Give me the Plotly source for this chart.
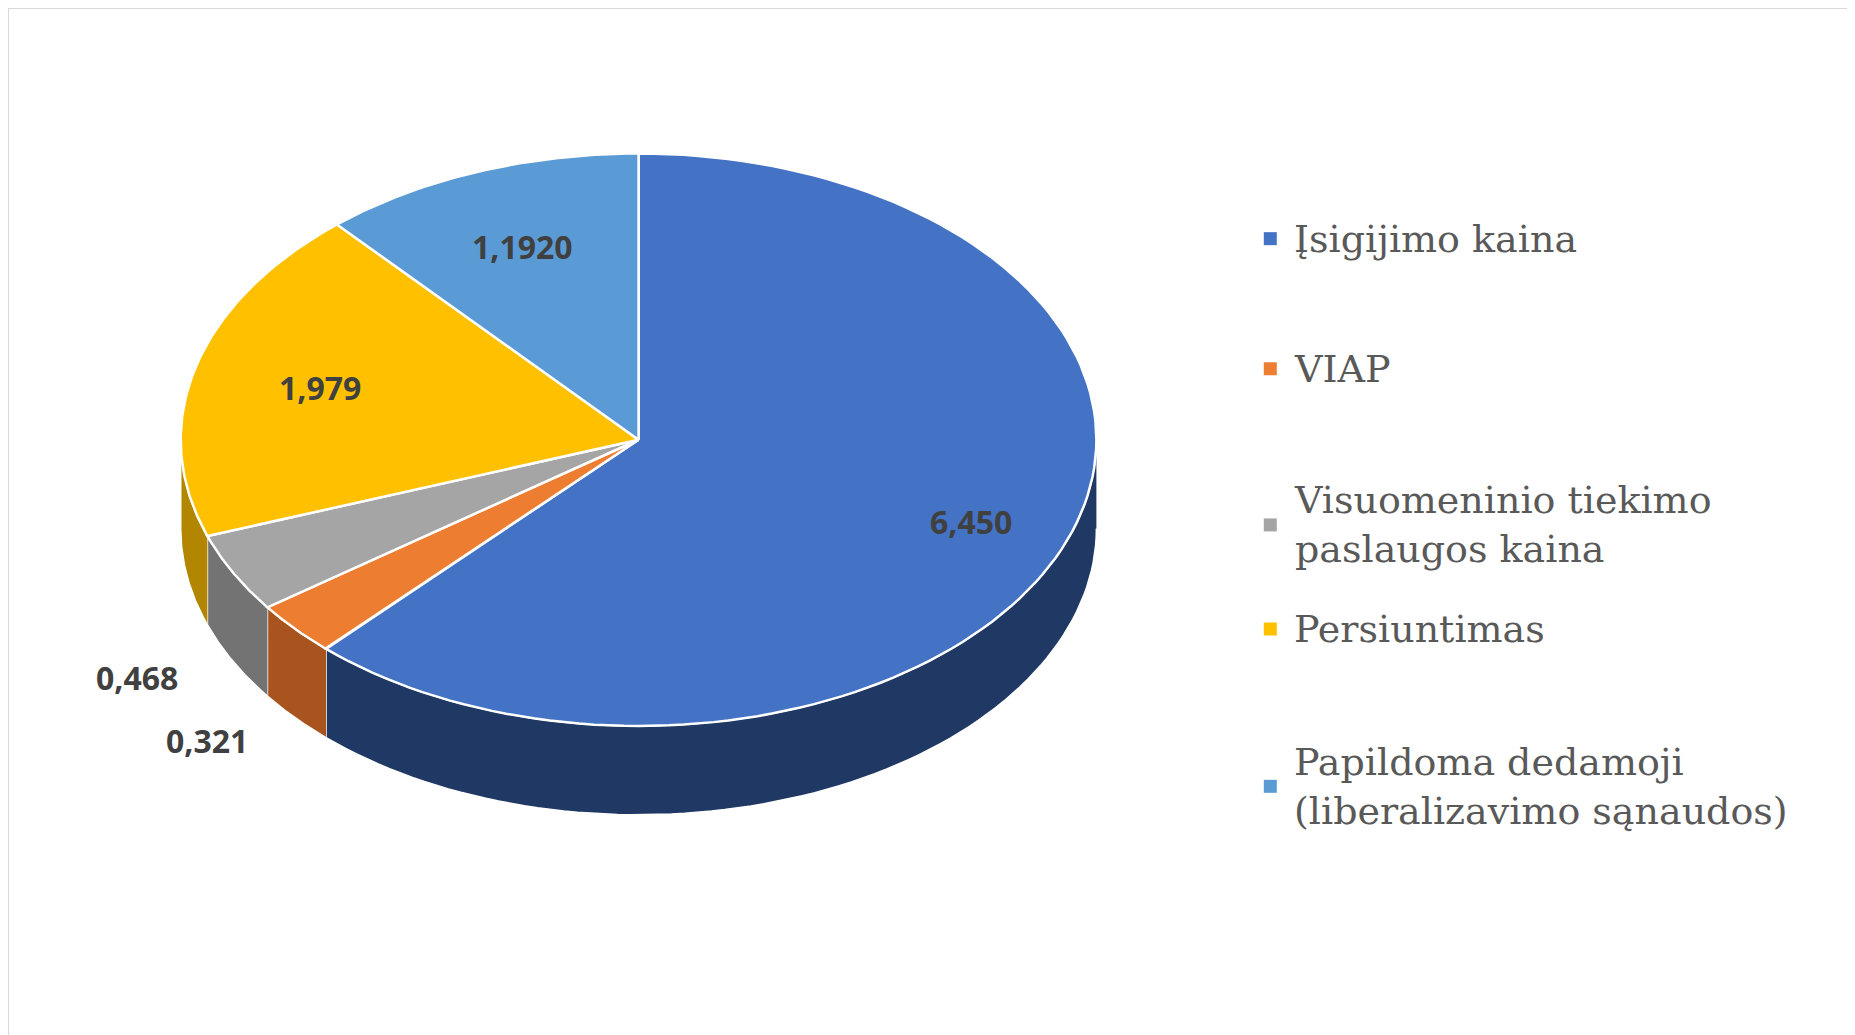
import numpy as np
import plotly.graph_objects as go

labels = ["Įsigijimo kaina", "VIAP", "Visuomeninio tiekimo<br>paslaugos kaina",
          "Persiuntimas", "Papildoma dedamoji<br>(liberalizavimo sąnaudos)"]
values = [6.450, 0.321, 0.468, 1.979, 1.1920]
value_text = ["6,450", "0,321", "0,468", "1,979", "1,1920"]
colors = ["#4472C4", "#ED7D31", "#A5A5A5", "#FFC000", "#5B9BD5"]
side_colors = ["#1F3864", "#A9541F", "#737373", "#B38600", "#3F6E99"]

W, H = 1568, 875
cx, cy, rx, ry, depth = 533, 365, 387, 242, 75

def pt(theta, r=1.0, dz=0):
    return cx + r * rx * np.sin(theta), cy - r * ry * np.cos(theta) + dz

fig = go.Figure()
total = sum(values)
bounds = np.concatenate([[0], np.cumsum(values) / total * 2 * np.pi])

# side walls (front half only)
for i in range(len(values)):
    a0, a1 = max(bounds[i], np.pi / 2), min(bounds[i + 1], 3 * np.pi / 2)
    if a1 <= a0:
        continue
    t = np.linspace(a0, a1, 80)
    x1, y1 = pt(t)
    x2, y2 = pt(t[::-1], dz=depth)
    fig.add_trace(go.Scatter(x=np.concatenate([x1, x2]), y=np.concatenate([y1, y2]),
                             fill="toself", fillcolor=side_colors[i], mode="lines",
                             line=dict(color="white", width=1.5), hoverinfo="skip", showlegend=False))

# top faces
for i in range(len(values)):
    t = np.linspace(bounds[i], bounds[i + 1], 120)
    x, y = pt(t)
    fig.add_trace(go.Scatter(x=np.concatenate([[cx], x, [cx]]), y=np.concatenate([[cy], y, [cy]]),
                             fill="toself", fillcolor=colors[i], mode="lines",
                             line=dict(color="white", width=2.5), hoverinfo="skip", showlegend=False))

# value labels
for i in range(len(values)):
    mid = (bounds[i] + bounds[i + 1]) / 2
    if values[i] / total < 0.06:
        lx, ly = pt(mid, 1.12, depth)
        lx -= 40
    else:
        lx, ly = pt(mid, 0.78 if i == 0 else 0.72)
    fig.add_annotation(x=lx, y=ly, text=f"<b>{value_text[i]}</b>", showarrow=False,
                       font=dict(family="Open Sans", size=32, color="#404040"))

# legend
leg_y = [195, 305, 437, 525, 658]
fig.add_trace(go.Scatter(x=[1067] * 5, y=leg_y, mode="markers",
                         marker=dict(symbol="square", size=13, color=colors),
                         hoverinfo="skip", showlegend=False))
for lab, y in zip(labels, leg_y):
    fig.add_annotation(x=1085, y=y, text=lab, showarrow=False, xanchor="left", align="left",
                       font=dict(family="DejaVu Serif", size=38, color="#595959"))

fig.update_xaxes(range=[0, W], visible=False)
fig.update_yaxes(range=[H, 0], visible=False)
fig.add_shape(type="rect", xref="paper", yref="paper", x0=0, y0=0, x1=1, y1=1,
              line=dict(color="#D9D9D9", width=2))
fig.update_layout(width=1855, height=1035, margin=dict(l=0, r=0, t=0, b=0),
                  plot_bgcolor="white", paper_bgcolor="white")
fig.write_html("out.html")
